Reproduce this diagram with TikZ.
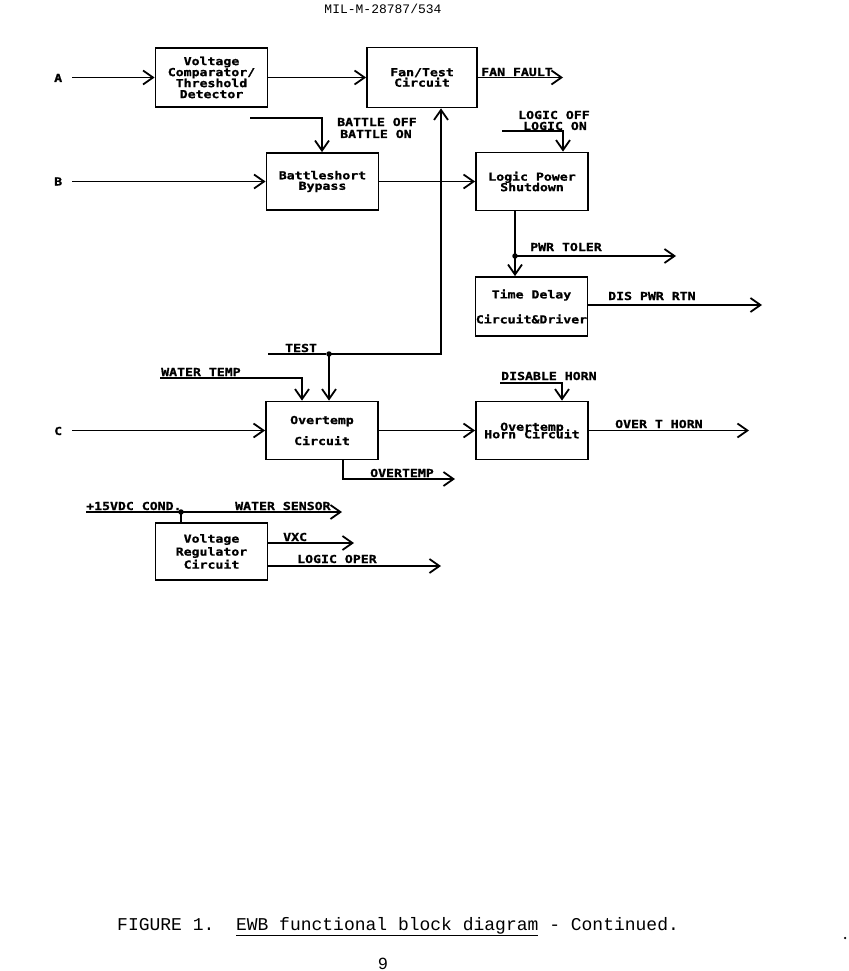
\documentclass[tikz,border=0pt]{standalone}
\usepackage{fontspec}
\setmainfont{Liberation Mono}
\newfontfamily\plotfnt{DejaVu Sans Mono}[FakeStretch=1.2, BoldFeatures={FakeBold=1.2}]
\usetikzlibrary{arrows.meta}
\lineskiplimit=-40pt
\tikzset{
  wire/.style={line width=1.8pt},
  arr/.style={wire, -{Straight Barb[length=10pt,width=14pt,line width=1.8pt]}},
  box/.style={draw, line width=1.8pt, minimum width=112pt, minimum height=58pt,
    inner sep=0pt, align=center,
    font={\plotfnt\bfseries\fontsize{11}{#1}\selectfont}},
  lab/.style={font=\plotfnt\bfseries\fontsize{11}{12}\selectfont, inner sep=0pt, anchor=base west},
  dot/.style={circle, fill, inner sep=0pt, minimum size=5.5pt},
}
\begin{document}
\begin{tikzpicture}[x=1pt,y=-1pt]
\useasboundingbox (0,0) rectangle (848,971);
% title
\node[font=\fontsize{13}{15}\selectfont, anchor=base, inner sep=0pt] (title) at (383,14) {MIL-M-28787/534};
% boxes
\node[box=11, minimum height=59pt] (vc) at (211.5,77.5) {Voltage\\Comparator/\\Threshold\\Detector};
\node[box=10.5, minimum width=110pt, minimum height=60pt] (ft) at (422,77.5) {Fan/Test\\Circuit};
\node[box=10.5, minimum height=57pt] (bb) at (322.5,181.5) {Battleshort\\Bypass};
\node[box=10.5] (lp) at (532,181.5) {Logic Power\\Shutdown};
\node[box=25, minimum height=59pt] (td) at (531.5,306.5) {Time Delay\\Circuit\&Driver};
\node[box=21] (ot) at (322,430.5) {Overtemp\\Circuit};
\node[box=7.5] (hc) at (532,430.5) {Overtemp\\Horn Circuit};
\node[box=13, minimum height=57pt] (vr) at (211.5,551.5) {Voltage\\Regulator\\Circuit};
% labels
\node[lab] (la) at (54,82) {A};
\node[lab] (lb) at (54,185.5) {B};
\node[lab] (lc) at (54,435) {C};
\node[lab] (lff) at (481,76) {FAN FAULT};
\node[lab] (lbo) at (337,126) {BATTLE OFF};
\node[lab] (lbn) at (340,138) {BATTLE ON};
\node[lab] (llo) at (518,119) {LOGIC OFF};
\node[lab] (lln) at (523,130) {LOGIC ON};
\node[lab] (lpt) at (530,251) {PWR TOLER};
\node[lab] (ldp) at (608,300) {DIS PWR RTN};
\node[lab] (lte) at (285,352) {TEST};
\node[lab] (lwt) at (161,376) {WATER TEMP};
\node[lab] (lov) at (370,477) {OVERTEMP};
\node[lab] (ldh) at (501,380) {DISABLE HORN};
\node[lab] (loh) at (615,428) {OVER T HORN};
\node[lab] (l15) at (86,510) {+15VDC COND.};
\node[lab] (lws) at (235,510) {WATER SENSOR};
\node[lab] (lvx) at (283,541) {VXC};
\node[lab] (llop) at (297,563) {LOGIC OPER};
% connectors
\coordinate (a0) at (72,77.5);
\draw[arr] (a0) -- (vc.west);
\draw[arr] (vc.east) -- (ft.west);
\coordinate (ff) at (563,77.5);
\draw[arr] (ft.east) -- (ff);
\coordinate (bt0) at (250,118);
\coordinate (bt1) at (322,118);
\draw[arr] (bt0) -- (bt1) -- (bt1 |- bb.north);
\coordinate (b0) at (72,181.5);
\draw[arr] (b0) -- (bb.west);
\draw[arr] (bb.east) -- (lp.west);
\coordinate (t0) at (268,354);
\coordinate (tc) at (441,354);
\node[dot] (jt) at (329,354) {};
\draw[wire] (t0) -- (jt);
\draw[arr] (jt.center) -- (tc) -- (tc |- ft.south);
\draw[arr] (jt.center) -- (jt |- ot.north);
\coordinate (w0) at (160,378);
\coordinate (w1) at (302,378);
\draw[arr] (w0) -- (w1) -- (w1 |- ot.north);
\coordinate (l0) at (502,131);
\coordinate (l1) at (563,131);
\draw[arr] (l0) -- (l1) -- (l1 |- lp.north);
\node[dot] (jp) at (515,256) {};
\draw[wire] (jp |- lp.south) -- (jp.center);
\draw[arr] (jp.center) -- (jp |- td.north);
\coordinate (pt) at (676,256);
\draw[arr] (jp.center) -- (pt);
\coordinate (dp) at (762,305);
\draw[arr] (td.east |- dp) -- (dp);
\coordinate (c0) at (72,430.5);
\draw[arr] (c0) -- (ot.west);
\draw[arr] (ot.east) -- (hc.west);
\coordinate (o1) at (343,479);
\coordinate (o2) at (455,479);
\draw[arr] (o1 |- ot.south) -- (o1) -- (o2);
\coordinate (d0) at (500,383);
\coordinate (d1) at (562,383);
\draw[arr] (d0) -- (d1) -- (d1 |- hc.north);
\coordinate (oh) at (749,430.5);
\draw[arr] (hc.east) -- (oh);
\coordinate (v0) at (86,512);
\coordinate (v1) at (342,512);
\node[dot] (jv) at (181,512) {};
\draw[arr] (v0) -- (v1);
\draw[wire] (jv.center) -- (jv |- vr.north);
\coordinate (x1) at (354,543);
\draw[arr] (vr.east |- x1) -- (x1);
\coordinate (lo) at (441,566);
\draw[arr] (vr.east |- lo) -- (lo);
% caption
\node[font=\fontsize{18}{20}\selectfont, anchor=base west, inner sep=0pt] (cap) at (117,930)
  {FIGURE~1.~~\underline{EWB functional block diagram} - Continued.};
\node[font=\fontsize{17}{20}\selectfont, anchor=base, inner sep=0pt] (pg) at (383,969) {9};
\node[circle, fill, inner sep=0pt, minimum size=2.5pt] (spk) at (845,938) {};
\end{tikzpicture}
\end{document}
